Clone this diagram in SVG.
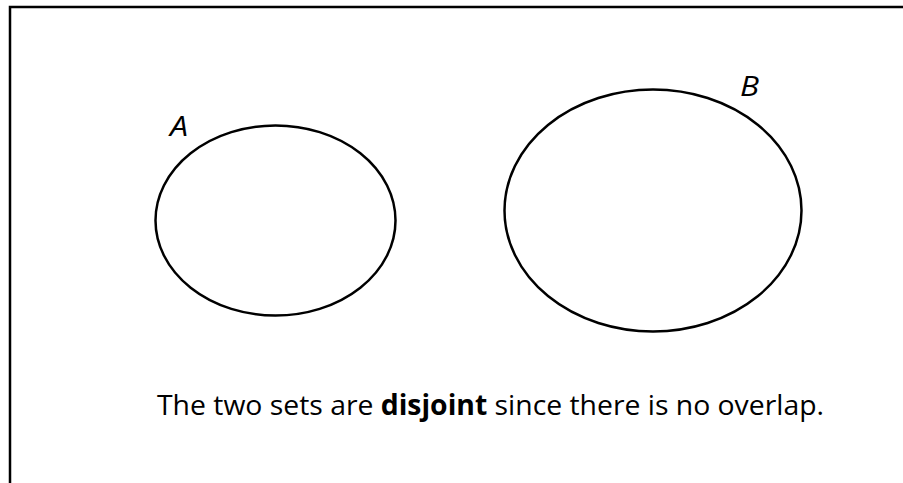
<svg xmlns="http://www.w3.org/2000/svg" width="903" height="483" viewBox="0 0 903 483">
<style>
.set{fill:none;stroke:#000;stroke-width:2.5}
.lbl{font-family:"Open Sans","Noto Sans",sans-serif;font-style:italic;font-size:28px;fill:#000}
.cap{font-family:"Open Sans","Noto Sans",sans-serif;font-size:28px;fill:#000}
</style>
<rect width="903" height="483" fill="#fff"/>
<path d="M10,483 V7 H903" fill="none" stroke="#000" stroke-width="2.5"/>
<g id="setA">
<ellipse class="set" cx="275.5" cy="220.5" rx="120" ry="95"/>
<text class="lbl" x="170" y="136" textLength="18" lengthAdjust="spacingAndGlyphs">A</text>
</g>
<g id="setB">
<ellipse class="set" cx="653" cy="210.5" rx="148.5" ry="121"/>
<text class="lbl" x="740" y="96" textLength="19" lengthAdjust="spacingAndGlyphs">B</text>
</g>
<g id="connectors"></g>
<text class="cap" x="157" y="415" textLength="667" lengthAdjust="spacingAndGlyphs">The two sets are <tspan font-weight="bold">disjoint</tspan> since there is no overlap.</text>
</svg>
